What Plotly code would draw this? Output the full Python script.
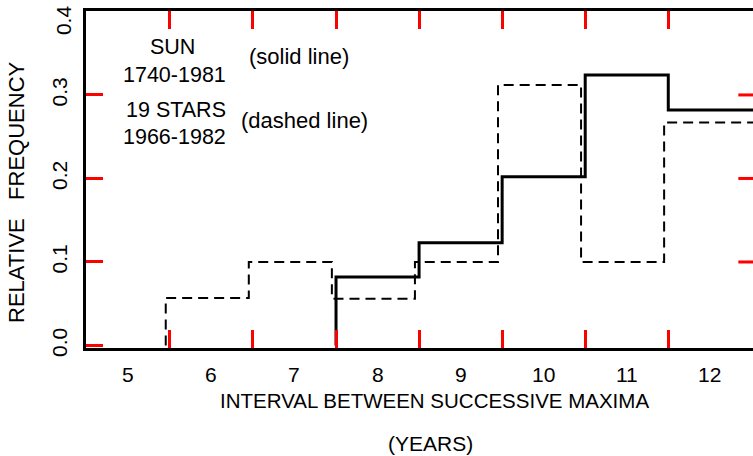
import plotly.graph_objects as go

# ---- data ----
years = [6, 7, 8, 9, 10, 11, 12]
stars_freq = [0.057, 0.100, 0.056, 0.100, 0.312, 0.100, 0.267]   # 19 stars 1966-1982 (dashed)
sun_years = [8, 9, 10, 11, 12]
sun_freq = [0.082, 0.123, 0.202, 0.324, 0.282]                   # Sun 1740-1981 (solid)
x_tick_labels = [5, 6, 7, 8, 9, 10, 11, 12]
x_bin_edges = [5.5, 6.5, 7.5, 8.5, 9.5, 10.5, 11.5]
y_tick_vals = [0.0, 0.1, 0.2, 0.3, 0.4]

FONT = "Liberation Sans, Arial, sans-serif"
DASH_SHIFT = -0.05
TICK_COLOR = "red"


def step_xy(centers, values, shift=0.0, extend=0.2):
    xs = [centers[0] - 0.5 + shift]
    ys = [0.0]
    for c, v in zip(centers, values):
        xs.append(c - 0.5 + shift)
        ys.append(v)
    xs.append(centers[-1] + 0.5 + extend)
    ys.append(values[-1])
    return xs, ys


sx, sy = step_xy(years, stars_freq, DASH_SHIFT)
ux, uy = step_xy(sun_years, sun_freq)

fig = go.Figure()
fig.add_trace(go.Scatter(x=sx, y=sy, mode="lines", line_shape="hv",
                         line=dict(color="black", width=2, dash="10px,6px"),
                         showlegend=False, hoverinfo="skip"))
fig.add_trace(go.Scatter(x=ux, y=uy, mode="lines", line_shape="hv",
                         line=dict(color="black", width=3),
                         showlegend=False, hoverinfo="skip"))

YR = [-0.003, 0.4005]
XR = [4.49, 12.52]
TICKFONT = dict(size=21, family=FONT, color="black")

fig.update_layout(
    width=753, height=456,
    margin=dict(l=86, r=0, t=11, b=108),
    paper_bgcolor="white", plot_bgcolor="white",
    font=dict(family=FONT, color="black", size=20),
    xaxis=dict(
        range=XR, showgrid=False, zeroline=False,
        showline=True, linecolor="black", linewidth=2.5, mirror="ticks",
        tickmode="array", tickvals=x_bin_edges, ticktext=["" for _ in x_bin_edges],
        ticks="inside", ticklen=18, tickwidth=3, tickcolor=TICK_COLOR,
    ),
    yaxis=dict(
        range=YR, showgrid=False, zeroline=False,
        showline=True, linecolor="black", linewidth=2.5, mirror=False,
        tickmode="array", tickvals=y_tick_vals,
        ticktext=[f"{v:.1f}" for v in y_tick_vals[:-1]] + [""],
        ticks="inside", ticklen=17, tickwidth=3, tickcolor=TICK_COLOR,
        tickangle=-90, ticklabelstandoff=8, tickfont=TICKFONT,
    ),
)

for v in x_tick_labels:
    fig.add_annotation(text=str(v), x=v, xref="x", y=-0.0786, yref="paper",
                       xanchor="center", yanchor="middle", showarrow=False, font=TICKFONT)

fig.add_annotation(text=f"{y_tick_vals[-1]:.1f}", x=-0.0345, y=0.973, xref="paper", yref="paper",
                   xanchor="center", yanchor="middle", showarrow=False, textangle=-90,
                   font=TICKFONT)

for v in y_tick_vals[1:-1]:
    fig.add_shape(type="line", xref="paper", yref="y", x0=0.978, x1=1.0, y0=v, y1=v,
                  line=dict(color=TICK_COLOR, width=3))

ann = [
    ("SUN", 0.129, 0.893, 0, 21.5),
    ("1740-1981", 0.132, 0.810, 0, 21.5),
    ("19 STARS", 0.135, 0.706, 0, 21.5),
    ("1966-1982", 0.132, 0.626, 0, 21.5),
    ("(solid line)", 0.319, 0.864, 0, 22),
    ("(dashed line)", 0.328, 0.674, 0, 22),
    ("INTERVAL BETWEEN SUCCESSIVE MAXIMA", 0.522, -0.157, 0, 20.5),
    ("(YEARS)", 0.516, -0.282, 0, 21),
    ("RELATIVE&nbsp;&nbsp; FREQUENCY", -0.1034, 0.463, -90, 22),
]
for text, xf, yf, ang, sz in ann:
    fig.add_annotation(text=text, x=xf, y=yf, xref="paper", yref="paper",
                       xanchor="center", yanchor="middle", showarrow=False,
                       textangle=ang, font=dict(size=sz, family=FONT, color="black"))

fig.write_html("out.html", config={"displayModeBar": False},
               post_script="document.body.style.margin='0';document.body.style.padding='0';")
